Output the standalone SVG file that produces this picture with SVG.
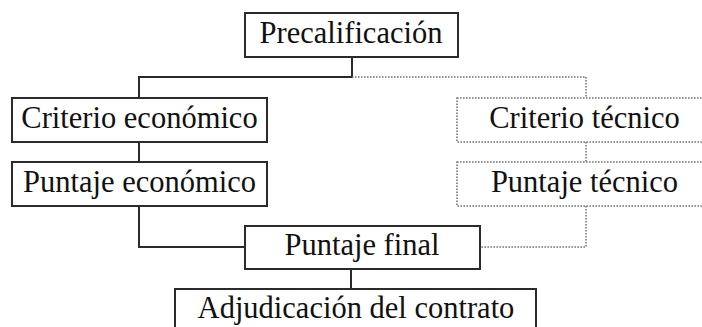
<svg xmlns="http://www.w3.org/2000/svg" width="702" height="327" viewBox="0 0 702 327">
<style>
.box{fill:#fff;stroke:#2b2b2b;stroke-width:2}
.dbox{fill:#fff;stroke:#777;stroke-width:1.6;stroke-dasharray:1.6 1.4}
.ln{fill:none;stroke:#2b2b2b;stroke-width:2}
.dl{fill:none;stroke:#777;stroke-width:1.6;stroke-dasharray:1.6 1.4}
text{font-family:'Liberation Serif','Times New Roman',Times,serif;font-size:30.5px;fill:#111;text-anchor:middle}
</style>
<rect width="702" height="327" fill="#fff"/>
<g id="connectors">
<polyline class="ln" points="352,57 352,77 139,77 139,98"/>
<polyline class="dl" points="352,77 586,77 586,98"/>
<line class="ln" x1="139" y1="142" x2="139" y2="162"/>
<line class="dl" x1="586" y1="142" x2="586" y2="162"/>
<polyline class="ln" points="139,206 139,247 245,247"/>
<polyline class="dl" points="586,206 586,247 481,247"/>
<line class="ln" x1="351" y1="269" x2="351" y2="289"/>
</g>
<g id="precalificacion">
<rect class="box" x="245" y="13" width="213" height="44"/>
<text x="351" y="43">Precalificación</text>
</g>
<g id="criterio-economico">
<rect class="box" x="12" y="98" width="255" height="44"/>
<text x="139.5" y="128">Criterio económico</text>
</g>
<g id="puntaje-economico">
<rect class="box" x="12" y="162" width="255" height="44"/>
<text x="139.5" y="192">Puntaje económico</text>
</g>
<g id="criterio-tecnico">
<rect class="dbox" x="457" y="98" width="255" height="44"/>
<text x="584.5" y="128">Criterio técnico</text>
</g>
<g id="puntaje-tecnico">
<rect class="dbox" x="457" y="162" width="255" height="44"/>
<text x="584.5" y="192">Puntaje técnico</text>
</g>
<g id="puntaje-final">
<rect class="box" x="245" y="226" width="235" height="43"/>
<text x="362" y="255">Puntaje final</text>
</g>
<g id="adjudicacion">
<rect class="box" x="175" y="289" width="361" height="50"/>
<text x="356" y="318">Adjudicación del contrato</text>
</g>
</svg>
